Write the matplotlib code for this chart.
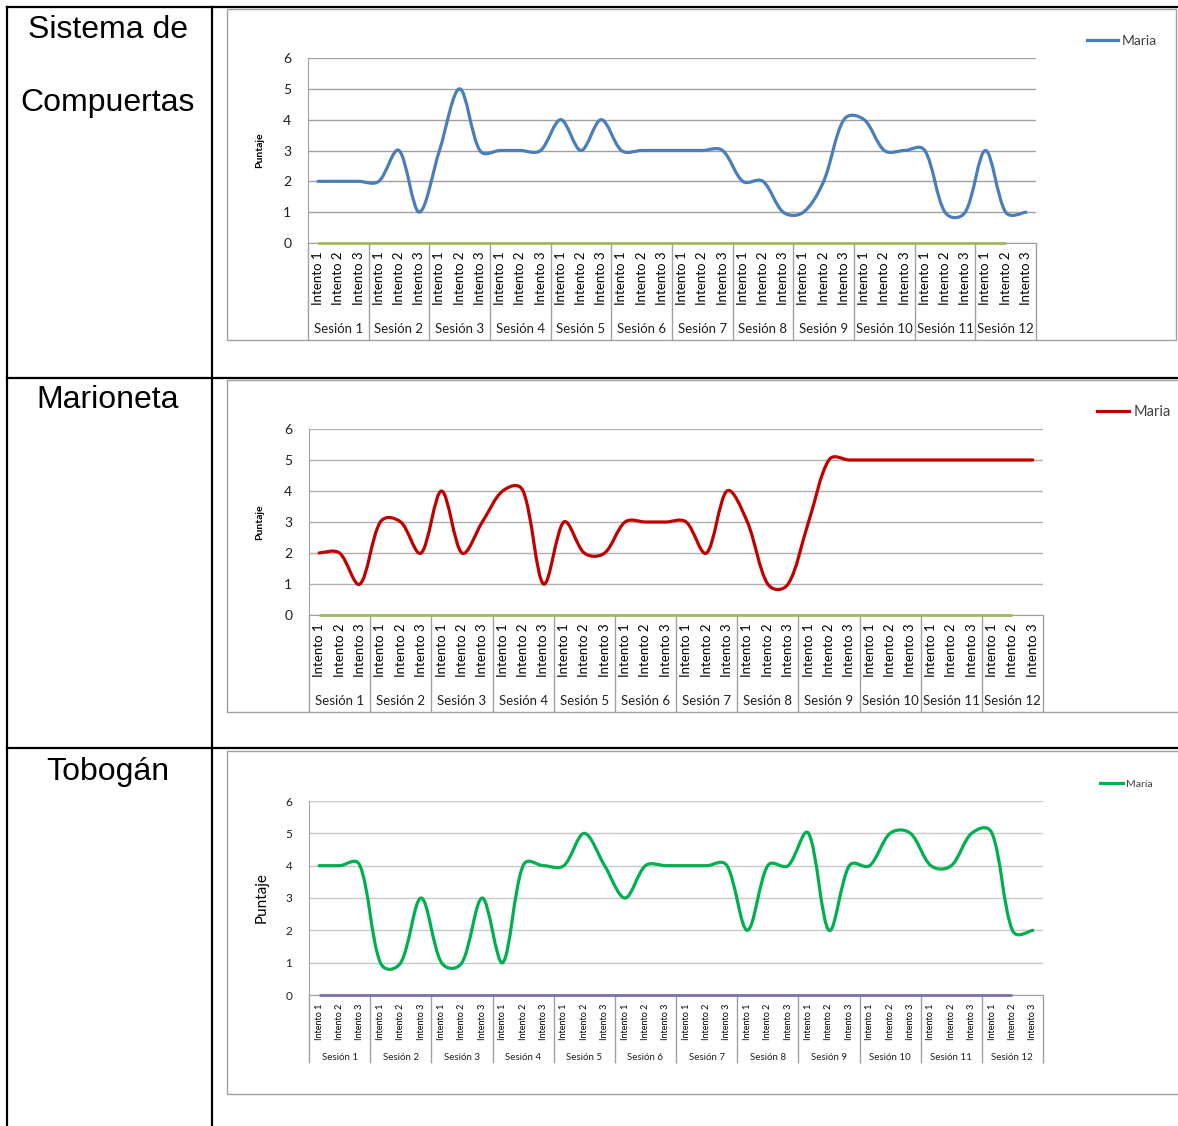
import numpy as np
import matplotlib
matplotlib.use("Agg")
import matplotlib.pyplot as plt
from matplotlib.path import Path
from matplotlib.patches import PathPatch, Rectangle
from matplotlib.lines import Line2D

W, H = 1178, 1126

sesiones = ["Sesión %d" % i for i in range(1, 13)]
intentos = ["Intento 1", "Intento 2", "Intento 3"]
categorias = [it for s in sesiones for it in intentos]

compuertas = [2, 2, 2, 2, 3, 1, 3, 5, 3, 3, 3, 3, 4, 3, 4, 3, 3, 3,
              3, 3, 3, 2, 2, 1, 1, 2, 4, 4, 3, 3, 3, 1, 1, 3, 1, 1]
marioneta = [2, 2, 1, 3, 3, 2, 4, 2, 3, 4, 4, 1, 3, 2, 2, 3, 3, 3,
             3, 2, 4, 3, 1, 1, 3, 5, 5, 5, 5, 5, 5, 5, 5, 5, 5, 5]
tobogan = [4, 4, 4, 1, 1, 3, 1, 1, 3, 1, 4, 4, 4, 5, 4, 3, 4, 4,
           4, 4, 4, 2, 4, 4, 5, 2, 4, 4, 5, 5, 4, 4, 5, 5, 2, 2]
# second series in every chart: empty, sits on the zero line
vacia = [0] * 35

etiquetas = [["Sistema de", "Compuertas"], ["Marioneta"], ["Tobogán"]]

FONT = ["Lato", "DejaVu Sans"]


def smooth_path(vals, sx, sy):
    # smoothed line: Catmull-Rom (centripetal, measured in pixels) as cubic Beziers
    y = np.asarray(vals, dtype=float)
    x = np.arange(len(y), dtype=float)
    n = len(y)
    d = np.sqrt(np.hypot(np.diff(x) * sx, np.diff(y) * sy))  # sqrt of chord length
    verts = [(x[0], y[0])]
    codes = [Path.MOVETO]

    def ctrl(i, seg):
        # tangent at point i, scaled for segment seg
        i0, i2 = max(i - 1, 0), min(i + 1, n - 1)
        dp = d[i - 1] if i > 0 else d[0]
        dn = d[i] if i < n - 1 else d[n - 2]
        w = d[seg] / (dp + dn) if (dp + dn) > 0 else 0.5
        if i == 0 or i == n - 1:
            w = 0.5
        return (x[i2] - x[i0]) * w / 3, (y[i2] - y[i0]) * w / 3

    for i in range(n - 1):
        t1 = ctrl(i, i)
        t2 = ctrl(i + 1, i)
        c1 = (x[i] + t1[0], y[i] + t1[1])
        c2 = (x[i + 1] - t2[0], y[i + 1] - t2[1])
        verts += [c1, c2, (x[i + 1], y[i + 1])]
        codes += [Path.CURVE4] * 3
    return Path(verts, codes)


fig = plt.figure(figsize=(W / 100, H / 100), dpi=100)

# table grid
def hline(y, x0, x1, **kw):
    fig.add_artist(Line2D([x0 / W, x1 / W], [1 - y / H, 1 - y / H], **kw))

def vline(x, y0, y1, **kw):
    fig.add_artist(Line2D([x / W, x / W], [1 - y0 / H, 1 - y1 / H], **kw))

tbl = dict(color="black", lw=1.6)
hline(7, 7, W, **tbl)
hline(378, 7, W, **tbl)
hline(748, 7, W, **tbl)
vline(7, 7, H, **tbl)
vline(212, 7, H, **tbl)

# left column titles
tit = dict(ha="center", va="center", fontsize=23, family="Liberation Sans")
fig.text(108 / W, 1 - 30 / H, etiquetas[0][0], **tit)
fig.text(108 / W, 1 - 103 / H, etiquetas[0][1], **tit)
fig.text(108 / W, 1 - 400 / H, etiquetas[1][0], **tit)
fig.text(108 / W, 1 - 772 / H, etiquetas[2][0], **tit)

charts = [
    dict(data=compuertas, color="#4a7ebb", zero="#9bbb59", box=(227, 9, 1176, 340),
         plot=(308, 58, 1036, 243), sep_bottom=340, fs=9.5, yfs=10, sfs=9.5,
         ylab=dict(fontsize=7.5, fontweight="bold"), ylab_x=260,
         leg=(1087, 41), lfs=10, grid="#a0a0a0"),
    dict(data=marioneta, color="#c00000", zero="#9bbb59", box=(227, 380, 1190, 712),
         plot=(309, 429, 1043, 615), sep_bottom=712, fs=9.5, yfs=10, sfs=9.5,
         ylab=dict(fontsize=7.5, fontweight="bold"), ylab_x=260,
         leg=(1097, 412), lfs=10.5, grid="#b0b0b0"),
    dict(data=tobogan, color="#00b050", zero="#7b6fb0", box=(227, 751, 1190, 1094),
         plot=(309, 801, 1043, 995), sep_bottom=1063, fs=6.5, yfs=8.5, sfs=7,
         ylab=dict(fontsize=11), ylab_x=262,
         leg=(1100, 784), lfs=7.5, grid="#c8c8c8"),
]

for c in charts:
    bx0, by0, bx1, by1 = c["box"]
    fig.add_artist(Rectangle((bx0 / W, 1 - by1 / H), (bx1 - bx0) / W, (by1 - by0) / H,
                             transform=fig.transFigure, fill=False,
                             edgecolor="#a0a0a0", lw=1))

    px0, py0, px1, py1 = c["plot"]
    ax = fig.add_axes([px0 / W, 1 - py1 / H, (px1 - px0) / W, (py1 - py0) / H])
    ax.set_xlim(-0.5, 35.5)
    ax.set_ylim(0, 6)
    ax.set_yticks(range(7))
    ax.yaxis.grid(True, color=c["grid"], lw=1)
    ax.set_axisbelow(True)
    for s in ["top", "right"]:
        ax.spines[s].set_visible(False)
    ax.spines["left"].set_color("#a0a0a0")
    ax.spines["bottom"].set_color("#a0a0a0")
    ax.tick_params(axis="y", length=0, pad=12, labelsize=c["yfs"], labelcolor="#202020")
    for t in ax.get_yticklabels():
        t.set_family(FONT)

    ax.set_xticks(range(36))
    ax.set_xticklabels(categorias, rotation=90, va="top", ha="center",
                       fontsize=c["fs"], family=FONT)
    ax.tick_params(axis="x", length=0, pad=6)

    # session separators below the category axis
    frac = (c["sep_bottom"] - py1) / (py1 - py0)
    ax.vlines(np.arange(-0.5, 36, 3), -frac, 0, transform=ax.get_xaxis_transform(),
              color="#a0a0a0", lw=1, clip_on=False)
    drop = 86 if c["sfs"] > 8 else 62
    for k, s in enumerate(sesiones):
        ax.annotate(s, xy=(3 * k + 1, 0), xycoords=ax.get_xaxis_transform(),
                    xytext=(0, -drop), textcoords="offset pixels",
                    ha="center", va="center", fontsize=c["sfs"], family=FONT,
                    color="#202020")

    ax.plot(range(len(vacia)), vacia, color=c["zero"], lw=2, solid_capstyle="butt",
            clip_on=False, zorder=3)
    sx = (px1 - px0) / 36
    sy = (py1 - py0) / 6
    ax.add_patch(PathPatch(smooth_path(c["data"], sx, sy), fill=False,
                           edgecolor=c["color"], lw=2.3, capstyle="round",
                           joinstyle="round", zorder=4))

    fig.text(c["ylab_x"] / W, 1 - (py0 + py1) / 2 / H, "Puntaje", rotation=90,
             ha="center", va="center", family=FONT, **c["ylab"])

    handle = Line2D([], [], color=c["color"], lw=2.3)
    lx, ly = c["leg"]
    ax.legend([handle], ["Maria"], loc="center left", frameon=False,
              bbox_to_anchor=(lx / W, 1 - ly / H), bbox_transform=fig.transFigure,
              handlelength=2.2, handletextpad=0.3, borderpad=0, borderaxespad=0,
              prop=dict(family=FONT, size=c["lfs"]), labelcolor="#404040")

fig.savefig("out.png", dpi=100)
